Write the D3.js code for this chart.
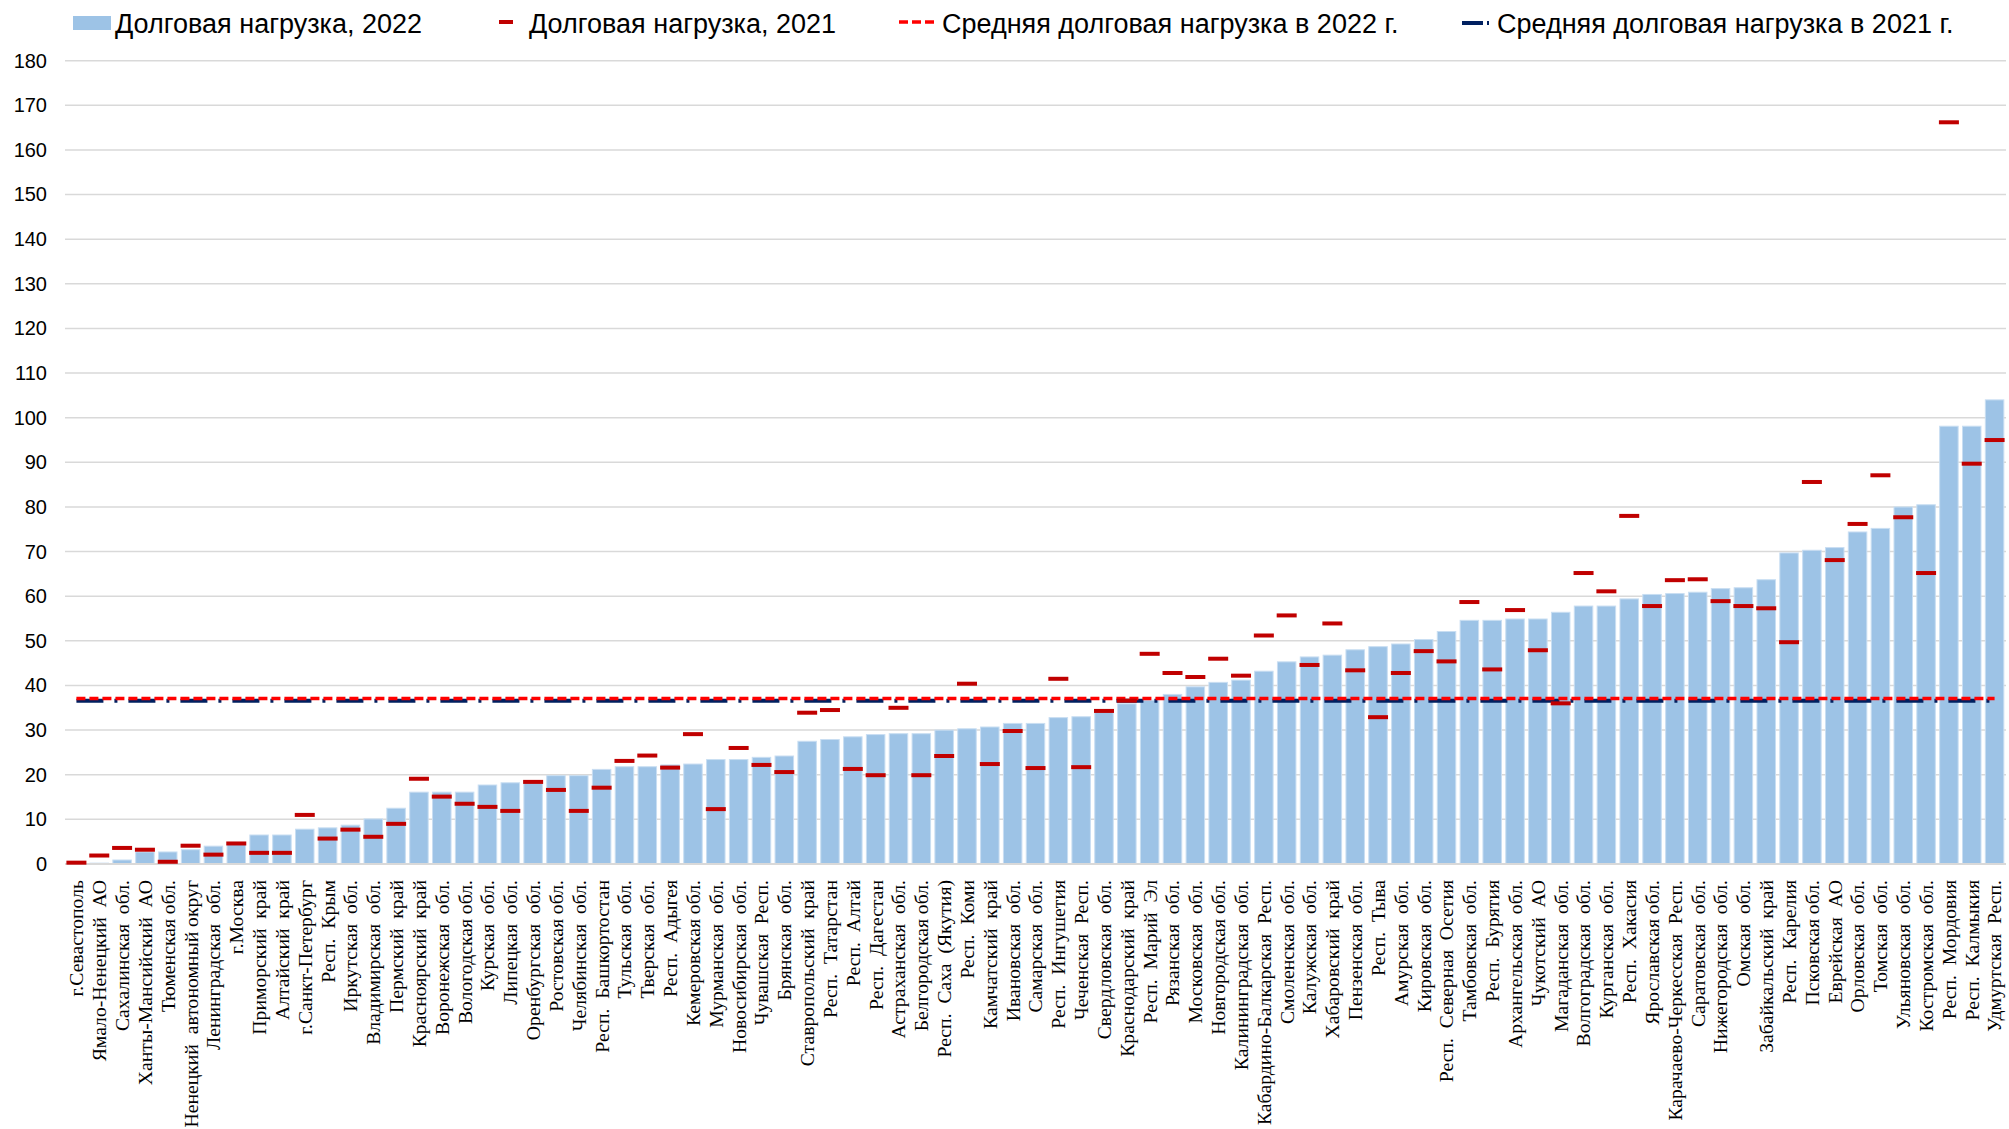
<!DOCTYPE html>
<html><head><meta charset="utf-8">
<script src="https://cdn.jsdelivr.net/npm/d3@7"></script>
<style>
html,body{margin:0;padding:0;background:#fff;}
svg{display:block;}
</style></head>
<body>
<svg id="chart" width="2009" height="1129"></svg>
<script>
const categories = ["г.Севастополь","Ямало-Ненецкий  АО","Сахалинская  обл.","Ханты-Мансийский  АО","Тюменская обл.","Ненецкий  автономный округ","Ленинградская  обл.","г.Москва","Приморский  край","Алтайский  край","г.Санкт-Петербург","Респ.  Крым","Иркутская  обл.","Владимирская  обл.","Пермский  край","Красноярский  край","Воронежская  обл.","Вологодская обл.","Курская  обл.","Липецкая  обл.","Оренбургская  обл.","Ростовская обл.","Челябинская  обл.","Респ.  Башкортостан","Тульская  обл.","Тверская  обл.","Респ.  Адыгея","Кемеровская обл.","Мурманская  обл.","Новосибирская  обл.","Чувашская  Респ.","Брянская  обл.","Ставропольский  край","Респ.  Татарстан","Респ.  Алтай","Респ.  Дагестан","Астраханская  обл.","Белгородская обл.","Респ.  Саха  (Якутия)","Респ.  Коми","Камчатский  край","Ивановская  обл.","Самарская  обл.","Респ.  Ингушетия","Чеченская  Респ.","Свердловская  обл.","Краснодарский  край","Респ.  Марий  Эл","Рязанская  обл.","Московская  обл.","Новгородская обл.","Калининградская  обл.","Кабардино-Балкарская  Респ.","Смоленская  обл.","Калужская  обл.","Хабаровский  край","Пензенская  обл.","Респ.  Тыва","Амурская  обл.","Кировская  обл.","Респ.  Северная  Осетия","Тамбовская  обл.","Респ.  Бурятия","Архангельская  обл.","Чукотский  АО","Магаданская  обл.","Волгоградская  обл.","Курганская  обл.","Респ.  Хакасия","Ярославская обл.","Карачаево-Черкесская  Респ.","Саратовская  обл.","Нижегородская  обл.","Омская  обл.","Забайкальский  край","Респ.  Карелия","Псковская обл.","Еврейская  АО","Орловская  обл.","Томская  обл.","Ульяновская  обл.","Костромская  обл.","Респ.  Мордовия","Респ.  Калмыкия","Удмуртская  Респ."];

const debt2022 = [0.0,0.2,0.9,2.7,2.7,3.2,4.0,4.4,6.5,6.5,7.8,8.1,8.7,10.1,12.5,16.1,16.1,16.1,17.7,18.2,18.5,19.8,19.8,21.2,21.8,21.8,22.2,22.4,23.4,23.4,23.9,24.2,27.5,27.9,28.5,29.0,29.2,29.2,30.0,30.3,30.7,31.5,31.5,32.8,33.0,34.2,35.9,36.7,38.0,39.7,40.7,41.2,43.2,45.3,46.4,46.8,48.0,48.7,49.3,50.3,52.1,54.6,54.6,54.9,54.9,56.4,57.8,57.8,59.4,60.4,60.6,60.9,61.7,61.9,63.7,69.7,70.3,70.9,74.4,75.2,80.0,80.5,98.1,98.1,104.0];

const debt2021 = [0.3,1.9,3.6,3.2,0.5,4.1,2.1,4.6,2.5,2.5,11.0,5.7,7.7,6.1,9.0,19.1,15.1,13.5,12.8,11.9,18.4,16.6,11.9,17.1,23.1,24.3,21.6,29.1,12.3,26.0,22.2,20.6,33.9,34.5,21.3,19.9,35.0,19.9,24.2,40.4,22.4,29.8,21.5,41.5,21.7,34.3,36.6,47.1,42.8,41.9,46.0,42.2,51.2,55.7,44.6,53.9,43.4,32.9,42.8,47.7,45.4,58.7,43.6,56.9,47.9,36.0,65.2,61.1,78.0,57.8,63.6,63.8,58.9,57.8,57.3,49.7,85.6,68.1,76.2,87.1,77.7,65.2,166.2,89.7,95.0];

const avg2022 = 37.1;
const avg2021 = 36.6;

const yTicks = [0,10,20,30,40,50,60,70,80,90,100,110,120,130,140,150,160,170,180];

const legendLabels = ["Долговая нагрузка, 2022","Долговая нагрузка, 2021","Средняя долговая нагрузка в 2022 г.","Средняя долговая нагрузка в 2021 г."];

(function () {
const svg = d3.select("#chart");
const mLeft = 65, mRight = 2006, mTop = 60.7, mBottom = 864;

const x = d3.scaleBand().domain(categories).range([mLeft, mRight]).paddingInner(0.19).paddingOuter(0.095);
const y = d3.scaleLinear().domain([0, 180]).range([mBottom, mTop]);

// gridlines
svg.append("g").selectAll("line").data(yTicks).join("line")
  .attr("x1", mLeft).attr("x2", mRight)
  .attr("y1", d => y(d)).attr("y2", d => y(d))
  .attr("stroke", "#d9d9d9").attr("stroke-width", 1.5);

// y labels
const yAxis = d3.axisLeft(y).tickValues(yTicks).tickSize(0).tickPadding(0);
const gy = svg.append("g").attr("transform", `translate(${mLeft - 18},0)`).call(yAxis);
gy.select(".domain").remove();
gy.selectAll("text").attr("font-family", "'Liberation Sans', Arial, sans-serif").attr("font-size", 20).attr("fill", "#000");

// bars
svg.append("g").selectAll("rect").data(categories).join("rect")
  .attr("x", d => x(d))
  .attr("width", x.bandwidth())
  .attr("y", (d, i) => y(debt2022[i]))
  .attr("height", (d, i) => y(0) - y(debt2022[i]))
  .attr("fill", "#9dc3e6")
  .attr("stroke", "#c9def2").attr("stroke-width", 1);

// x axis baseline
svg.append("line").attr("x1", mLeft).attr("x2", mRight).attr("y1", y(0)).attr("y2", y(0))
  .attr("stroke", "#d9d9d9").attr("stroke-width", 2);

// x labels
const xAxis = d3.axisBottom(x).tickSize(0).tickPadding(0);
const gx = svg.append("g").attr("transform", `translate(0,${y(0)})`).call(xAxis);
gx.select(".domain").remove();
gx.selectAll("text")
  .attr("font-family", "'Liberation Serif', 'Times New Roman', serif")
  .attr("font-size", 19.7).attr("fill", "#000")
  .style("white-space", "pre")
  .attr("text-anchor", "end")
  .attr("transform", "translate(0,16) rotate(-90)")
  .attr("x", 0).attr("y", 0).attr("dy", "0.35em");

const cx = d => x(d) + x.bandwidth() / 2;
const x0 = cx(categories[0]), x1 = cx(categories[categories.length - 1]);

// average 2021 (navy long dash dot)
svg.append("line").attr("x1", x0).attr("x2", x1)
  .attr("y1", y(avg2021)).attr("y2", y(avg2021))
  .attr("stroke", "#002060").attr("stroke-width", 4)
  .attr("stroke-dasharray", "27,11,3,11");

// average 2022 (red dashed)
svg.append("line").attr("x1", x0).attr("x2", x1)
  .attr("y1", y(avg2022)).attr("y2", y(avg2022))
  .attr("stroke", "#ff0000").attr("stroke-width", 3.5)
  .attr("stroke-dasharray", "9,4");

// 2021 markers
svg.append("g").selectAll("rect").data(categories).join("rect")
  .attr("x", d => cx(d) - 10)
  .attr("width", 20)
  .attr("y", (d, i) => y(debt2021[i]) - 2)
  .attr("height", 4)
  .attr("fill", "#c00000");

// legend
const lg = svg.append("g").attr("font-family", "'Liberation Sans', Arial, sans-serif").attr("font-size", 27).attr("fill", "#000");
lg.append("rect").attr("x", 73).attr("y", 16).attr("width", 38).attr("height", 14).attr("fill", "#9dc3e6");
lg.append("text").attr("x", 115).attr("y", 33).text(legendLabels[0]);
lg.append("rect").attr("x", 499).attr("y", 20).attr("width", 14).attr("height", 4).attr("fill", "#c00000");
lg.append("text").attr("x", 529).attr("y", 33).text(legendLabels[1]);
lg.append("line").attr("x1", 899).attr("x2", 937).attr("y1", 22).attr("y2", 22)
  .attr("stroke", "#ff0000").attr("stroke-width", 3.5).attr("stroke-dasharray", "9,4");
lg.append("text").attr("x", 942).attr("y", 33).text(legendLabels[2]);
lg.append("line").attr("x1", 1462).attr("x2", 1490).attr("y1", 23).attr("y2", 23)
  .attr("stroke", "#002060").attr("stroke-width", 4).attr("stroke-dasharray", "21,4,2,10");
lg.append("text").attr("x", 1497).attr("y", 33).text(legendLabels[3]);
})();
</script>
</body></html>
